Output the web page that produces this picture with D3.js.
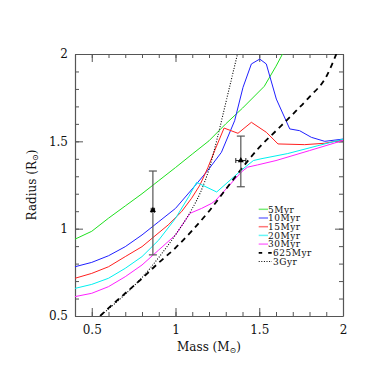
<!DOCTYPE html>
<html>
<head>
<meta charset="utf-8">
<script src="https://cdn.jsdelivr.net/npm/d3@7"></script>
<style>
	html, body { margin: 0; padding: 0; background: #fff; }
	svg { display: block; }
	text { font-family: "DejaVu Serif", "Liberation Serif", serif; fill: #111; }
</style>
</head>
<body>
<svg id="chart" width="374" height="374"></svg>
<script>
// evolutionary tracks, [mass, radius]
const track5Myr = [[0.4,0.94],[0.5,0.985],[0.6,1.06],[0.7,1.13],[0.8,1.2],[0.9,1.275],[1.0,1.35],[1.1,1.427],[1.2,1.503],[1.3,1.6],[1.4,1.69],[1.53,1.815],[1.6,1.93],[1.65,2.02]];
const track10Myr = [[0.4,0.782],[0.5,0.807],[0.6,0.845],[0.7,0.897],[0.8,0.964],[0.9,1.04],[1.0,1.116],[1.12,1.25],[1.194,1.335],[1.274,1.437],[1.353,1.618],[1.403,1.809],[1.453,1.943],[1.503,1.971],[1.542,1.943],[1.602,1.742],[1.682,1.571],[1.741,1.561],[1.811,1.523],[1.891,1.5],[2.0,1.513]];
const track15Myr = [[0.4,0.716],[0.5,0.744],[0.6,0.782],[0.7,0.84],[0.8,0.897],[0.864,0.948],[0.956,1.021],[1.036,1.097],[1.096,1.174],[1.146,1.25],[1.194,1.351],[1.234,1.447],[1.29,1.576],[1.373,1.546],[1.453,1.609],[1.542,1.552],[1.612,1.485],[1.771,1.481],[1.891,1.489],[2.0,1.508]];
const track20Myr = [[0.4,0.658],[0.5,0.681],[0.6,0.716],[0.7,0.773],[0.8,0.84],[0.9,0.935],[1.0,1.059],[1.079,1.183],[1.126,1.265],[1.246,1.21],[1.395,1.336],[1.465,1.39],[1.51,1.4],[1.67,1.43],[1.85,1.475],[2.0,1.512]];
const track30Myr = [[0.4,0.611],[0.5,0.63],[0.6,0.668],[0.7,0.725],[0.8,0.792],[0.9,0.878],[1.0,0.964],[1.087,1.088],[1.156,1.116],[1.216,1.145],[1.242,1.164],[1.395,1.326],[1.43,1.352],[1.49,1.365],[1.6,1.39],[1.8,1.447],[2.0,1.505]];
const track625Myr = [[0.55,0.5],[0.6,0.545],[0.7,0.63],[0.8,0.715],[0.9,0.805],[1.0,0.89],[1.1,0.99],[1.2,1.1],[1.3,1.225],[1.4,1.35],[1.5,1.465],[1.6,1.56],[1.7,1.655],[1.8,1.755],[1.9,1.87],[1.96,2.0]];
const track3Gyr = [[0.55,0.5],[0.6,0.54],[0.7,0.625],[0.8,0.72],[0.9,0.835],[1.0,0.965],[1.1,1.115],[1.15,1.21],[1.2,1.34],[1.25,1.52],[1.3,1.72],[1.35,1.92],[1.37,2.0]];

const trackLabels = ['5Myr', '10Myr', '15Myr', '20Myr', '30Myr', '625Myr', '3Gyr'];

// observed stars
const starMass = [0.865, 1.39];
const starMassErr = [0.01, 0.03];
const starRadius = [1.105, 1.39];
const starRadiusLo = [0.85, 1.24];
const starRadiusHi = [1.33, 1.53];

const xMajorTicks = [0.5, 1, 1.5, 2];
const yMajorTicks = [0.5, 1, 1.5, 2];

const tracks = [track5Myr, track10Myr, track15Myr, track20Myr, track30Myr, track625Myr, track3Gyr];
const trackStyles = [
	{ color: '#1fe01f', width: 1, dash: null },
	{ color: '#2020ff', width: 1, dash: null },
	{ color: '#ff2020', width: 1, dash: null },
	{ color: '#00f0f0', width: 1, dash: null },
	{ color: '#ff20ff', width: 1, dash: null },
	{ color: '#000', width: 1.8, dash: '5.5,4.5' },
	{ color: '#000', width: 1.1, dash: '1,1.6' }
];

const margin = { left: 75, top: 54, right: 343, bottom: 316 };
const svg = d3.select('#chart');

const x = d3.scaleLinear().domain([0.4, 2]).range([margin.left, margin.right]);
const y = d3.scaleLinear().domain([0.5, 2]).range([margin.bottom, margin.top]);

const axisColor = '#555';

function addAxis(makeAxis, scale, transform, majors, showLabels, padding)
{
	// minor ticks every 0.1, majors every 0.5, all pointing inward
	const minorG = svg.append('g').attr('transform', transform)
		.call(makeAxis(scale).ticks(16).tickSize(-4).tickSizeOuter(0).tickFormat(''));
	minorG.select('.domain').remove();

	const majorG = svg.append('g').attr('transform', transform)
		.call(makeAxis(scale).tickValues(majors).tickSize(-8).tickSizeOuter(0).tickPadding(padding)
			.tickFormat(showLabels ? d3.format('') : ''));

	[minorG, majorG].forEach(function(g){
		g.selectAll('line').attr('stroke', axisColor).attr('stroke-width', 1);
		g.selectAll('path').attr('stroke', axisColor).attr('stroke-width', 1.2);
		g.selectAll('text').attr('font-family', '"DejaVu Serif", serif').attr('font-size', 12).attr('fill', '#111');
	});
	return majorG;
}

addAxis(d3.axisBottom, x, `translate(0,${margin.bottom})`, xMajorTicks, true, 9);
addAxis(d3.axisTop, x, `translate(0,${margin.top})`, xMajorTicks, false, 3);
addAxis(d3.axisLeft, y, `translate(${margin.left},0)`, yMajorTicks, true, 7);
addAxis(d3.axisRight, y, `translate(${margin.right},0)`, yMajorTicks, false, 3);

// clip tracks to the frame
svg.append('clipPath').attr('id', 'plotClip')
	.append('rect')
	.attr('x', margin.left).attr('y', margin.top)
	.attr('width', margin.right - margin.left).attr('height', margin.bottom - margin.top);

const lineGen = d3.line().x( (d)=>x(d[0]) ).y( (d)=>y(d[1]) );

const trackG = svg.append('g').attr('clip-path', 'url(#plotClip)');
tracks.forEach(function(track, i){
	const style = trackStyles[i];
	trackG.append('path')
		.attr('d', lineGen.curve(i >= 5 ? d3.curveMonotoneX : d3.curveLinear)(track))
		.attr('fill', 'none')
		.attr('stroke', style.color)
		.attr('stroke-width', style.width)
		.attr('stroke-dasharray', style.dash);
});

// error bars
const errG = svg.append('g');
starMass.forEach(function(m, i){
	const cx = x(m);
	const cy = y(starRadius[i]);
	errG.append('line')
		.attr('x1', cx).attr('x2', cx)
		.attr('y1', y(starRadiusLo[i])).attr('y2', y(starRadiusHi[i]))
		.attr('stroke', '#555').attr('stroke-width', 1.2);
	[starRadiusLo[i], starRadiusHi[i]].forEach(function(r){
		errG.append('line')
			.attr('x1', cx - 4).attr('x2', cx + 4)
			.attr('y1', y(r)).attr('y2', y(r))
			.attr('stroke', '#555').attr('stroke-width', 1.2);
	});
	const xl = x(m - starMassErr[i]);
	const xr = x(m + starMassErr[i]);
	errG.append('line')
		.attr('x1', xl).attr('x2', xr).attr('y1', cy).attr('y2', cy)
		.attr('stroke', '#222').attr('stroke-width', 1);
	[xl, xr].forEach(function(xx){
		errG.append('line')
			.attr('x1', xx).attr('x2', xx).attr('y1', cy - 2.5).attr('y2', cy + 2.5)
			.attr('stroke', '#222').attr('stroke-width', 1);
	});
	errG.append('path')
		.attr('d', d3.symbol().type(d3.symbolTriangle).size(16)())
		.attr('transform', `translate(${cx},${cy})`)
		.attr('fill', '#000');
});

// legend
const legendX = 258.7;
const legendY = 209.3;
const legendStep = 8.7;
trackLabels.forEach(function(label, i){
	const style = trackStyles[i];
	const ly = legendY + i * legendStep;
	const x2 = i >= 5 ? 272 : 268;
	svg.append('line')
		.attr('x1', legendX).attr('x2', x2).attr('y1', ly).attr('y2', ly)
		.attr('stroke', style.color)
		.attr('stroke-opacity', i < 5 ? 0.6 : 1)
		.attr('stroke-width', i >= 5 ? style.width : 1.5)
		.attr('stroke-dasharray', i == 5 ? '3.5,6' : style.dash);
	svg.append('text')
		.attr('x', x2 + (i >= 5 ? 1 : 0)).attr('y', ly + 3.3)
		.attr('font-size', 9)
		.attr('letter-spacing', 0.5)
		.text(label);
});

// axis titles
const xTitle = svg.append('text')
	.attr('x', 209).attr('y', 351)
	.attr('text-anchor', 'middle')
	.attr('font-size', 12);
xTitle.append('tspan').text('Mass (M');
xTitle.append('tspan').attr('font-size', 8).attr('dy', 2).text('\u2299');
xTitle.append('tspan').attr('dy', -2).text(')');

const yTitle = svg.append('text')
	.attr('transform', 'translate(36,185) rotate(-90)')
	.attr('text-anchor', 'middle')
	.attr('font-size', 12);
yTitle.append('tspan').text('Radius (R');
yTitle.append('tspan').attr('font-size', 8).attr('dy', 2).text('\u2299');
yTitle.append('tspan').attr('dy', -2).text(')');
</script>
</body>
</html>
